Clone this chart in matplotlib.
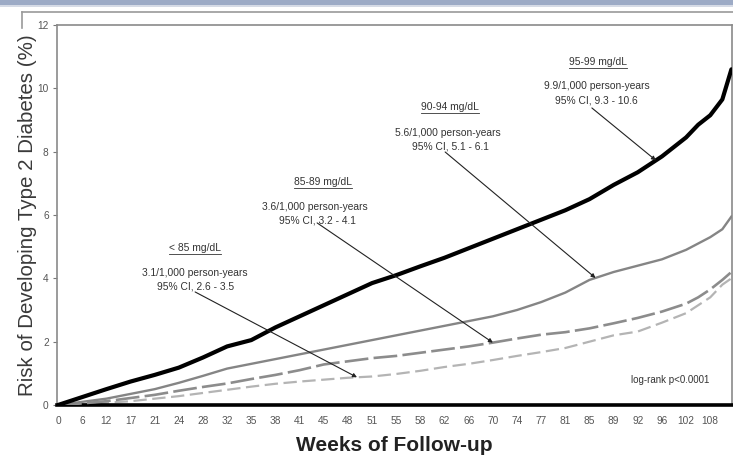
import numpy as np
import matplotlib
matplotlib.use("Agg")
import matplotlib.pyplot as plt
from matplotlib.lines import Line2D
from matplotlib.patches import Rectangle

plt.rcParams['font.family'] = ['Liberation Sans', 'DejaVu Sans']

# Follow-up time (weeks) and cumulative risk (%) per fasting glucose group
weeks = [0, 4, 8, 12, 16, 20, 24, 28, 32, 36, 40, 44, 48, 52, 56, 60, 64, 68,
         72, 76, 80, 84, 88, 92, 96, 100, 104, 106, 108, 110, 111.5]
risk_95_99 = [0, 0.25, 0.5, 0.74, 0.95, 1.18, 1.5, 1.85, 2.05, 2.45, 2.8, 3.15,
              3.5, 3.85, 4.1, 4.38, 4.65, 4.95, 5.25, 5.55, 5.85, 6.15, 6.5,
              6.95, 7.35, 7.85, 8.45, 8.85, 9.15, 9.65, 10.6]
risk_90_94 = [0, 0.1, 0.2, 0.35, 0.5, 0.7, 0.92, 1.15, 1.3, 1.45, 1.6, 1.75,
              1.9, 2.05, 2.2, 2.35, 2.5, 2.65, 2.8, 3.0, 3.25, 3.55, 3.95,
              4.2, 4.4, 4.6, 4.9, 5.1, 5.3, 5.55, 5.95]
risk_85_89 = [0, 0.05, 0.12, 0.22, 0.32, 0.45, 0.57, 0.68, 0.82, 0.95, 1.1,
              1.28, 1.38, 1.48, 1.55, 1.65, 1.75, 1.85, 1.97, 2.1, 2.22, 2.3,
              2.42, 2.58, 2.75, 2.95, 3.2, 3.4, 3.65, 3.95, 4.2]
risk_lt_85 = [0, 0.03, 0.07, 0.12, 0.2, 0.28, 0.38, 0.48, 0.58, 0.67, 0.74,
              0.8, 0.86, 0.9, 0.98, 1.08, 1.2, 1.3, 1.42, 1.55, 1.67, 1.8, 2.0,
              2.2, 2.32, 2.6, 2.9, 3.15, 3.4, 3.8, 4.0]

x_tick_labels = ['0', '6', '12', '17', '21', '24', '28', '32', '35', '38', '41',
                 '45', '48', '51', '55', '58', '62', '66', '70', '74', '77', '81',
                 '85', '89', '92', '96', '102', '108']
y_ticks = [0, 2, 4, 6, 8, 10, 12]
y_tick_labels = ['0', '2', '4', '6', '8', '10', '12']

groups = ['95-99 mg/dL', '90-94 mg/dL', '85-89 mg/dL', '< 85 mg/dL']
rates = ['9.9/1,000 person-years', '5.6/1,000 person-years',
         '3.6/1,000 person-years', '3.1/1,000 person-years']
cis = ['95% CI, 9.3 - 10.6', '95% CI, 5.1 - 6.1',
       '95% CI, 3.2 - 4.1', '95% CI, 2.6 - 3.5']
arrow_weeks = [99, 89, 72, 49.5]

fig = plt.figure(figsize=(7.33, 4.62), dpi=100)
fig.patch.set_facecolor('white')

# slide banner and chart-area border
fig.add_artist(Rectangle((0, 1 - 5 / 462), 1, 5 / 462, transform=fig.transFigure,
                         facecolor='#9dabc6', edgecolor='none'))
fig.add_artist(Rectangle((0, 1 - 7 / 462), 1, 2 / 462, transform=fig.transFigure,
                         facecolor='#d6dbe6', edgecolor='none'))
fig.add_artist(Line2D([22 / 733, 1], [1 - 11.5 / 462, 1 - 11.5 / 462],
                      transform=fig.transFigure, color='#9a9a9a', lw=1.2))
fig.add_artist(Line2D([22 / 733, 22 / 733], [1 - 11.5 / 462, 1 - 28 / 462],
                      transform=fig.transFigure, color='#9a9a9a', lw=1.2))

ax = fig.add_axes([57 / 733, 1 - 405 / 462, (732 - 57) / 733, (405 - 25) / 462])
ax.set_facecolor('white')

ax.plot(weeks, risk_lt_85, color='#b4b4b4', lw=1.6, dashes=(6, 2.5), zorder=2)
ax.plot(weeks, risk_85_89, color='#8c8c8c', lw=1.9, dashes=(9, 2), zorder=3)
ax.plot(weeks, risk_90_94, color='#858585', lw=1.7, zorder=4)
ax.plot(weeks, risk_95_99, color='black', lw=3.0, solid_capstyle='round', zorder=5)

ax.set_xlim(-0.17, 111.6)
ax.set_ylim(0, 12)

ax.set_xticks(np.linspace(0, 108, len(x_tick_labels)))
ax.set_xticklabels(x_tick_labels)
ax.set_yticks(y_ticks)
ax.set_yticklabels(y_tick_labels)
ax.tick_params(axis='x', length=0, pad=8, labelsize=7.3, labelcolor='#555555')
ax.tick_params(axis='y', length=3, width=0.8, color='#777777', pad=3,
               labelsize=7.3, labelcolor='#555555')

for side in ('left', 'top', 'right'):
    ax.spines[side].set_color('#8a8a8a')
    ax.spines[side].set_linewidth(1.2)
ax.spines['bottom'].set_color('black')
ax.spines['bottom'].set_linewidth(2.6)

ax.set_ylabel('Risk of Developing Type 2 Diabetes (%)', fontsize=14.8,
              color='#3a3a3a', labelpad=0)
ax.set_xlabel('Weeks of Follow-up', fontsize=15, fontweight='bold',
              color='#222222', labelpad=7)

series = [risk_95_99, risk_90_94, risk_85_89, risk_lt_85]
label_pos = [(89.4, 10.83), (64.9, 9.41), (43.9, 7.04), (22.7, 4.96)]
rate_pos = [(89.2, 10.07), (64.6, 8.59), (42.5, 6.25), (22.7, 4.17)]
ci_pos = [(89.2, 9.63), (64.9, 8.15), (43.0, 5.84), (22.7, 3.73)]
tails = [(88.4, 9.38), (64.1, 7.99), (42.9, 5.75), (22.7, 3.57)]

fs = 7.4
heads = []
for g, r, c, s, wk, lp, rp, cp, tl in zip(groups, rates, cis, series, arrow_weeks,
                                          label_pos, rate_pos, ci_pos, tails):
    heads.append(ax.text(lp[0], lp[1], g, ha='center', va='center', fontsize=fs,
                         color='#333333'))
    ax.text(rp[0], rp[1], r, ha='center', va='center', fontsize=fs, color='#333333')
    ax.text(cp[0], cp[1], c, ha='center', va='center', fontsize=fs, color='#333333')
    tip = (wk, float(np.interp(wk, weeks, s)))
    ax.annotate('', xy=tip, xytext=tl,
                arrowprops=dict(arrowstyle='-|>', color='#222222', lw=0.8,
                                mutation_scale=6, shrinkA=0, shrinkB=0),
                zorder=6)

# underline the group headings
fig.canvas.draw()
renderer = fig.canvas.get_renderer()
for h in heads:
    bb = h.get_window_extent(renderer).transformed(ax.transData.inverted())
    yline = bb.y0 - 0.03
    ax.plot([bb.x0, bb.x1], [yline, yline], color='#333333', lw=0.6, zorder=6)

ax.text(101.3, 0.79, 'log-rank p<0.0001', ha='center', va='center',
        fontsize=7, color='#333333')

fig.savefig('out.png', dpi=100, facecolor='white')
